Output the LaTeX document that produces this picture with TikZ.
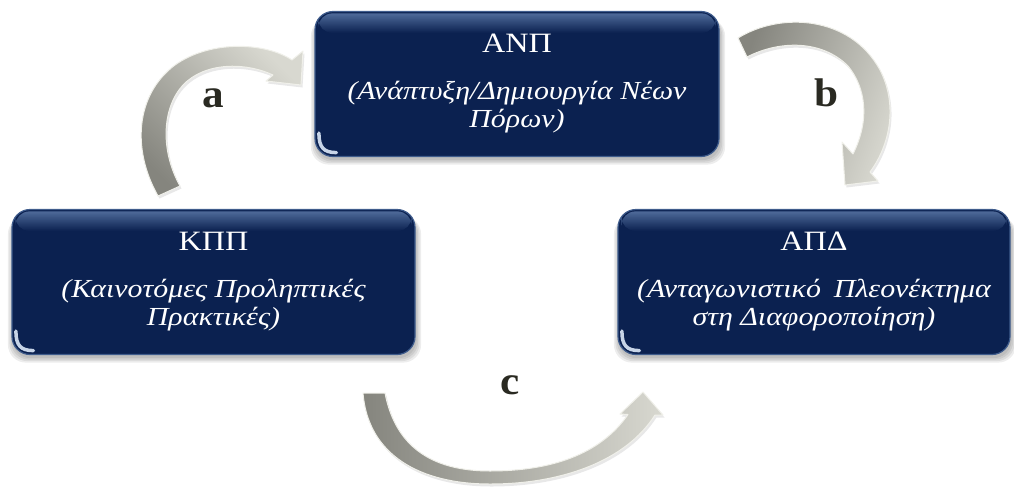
\documentclass[tikz,border=0pt]{standalone}
\usepackage{fontspec}
\setmainfont{Liberation Serif}[FakeStretch=1.15]
\newfontfamily\labfont{Liberation Serif}[FakeStretch=1.08]
\usetikzlibrary{calc,shadows}
\definecolor{navy}{HTML}{0B2150}
\definecolor{rim}{HTML}{3F5C8C}
\definecolor{sheen}{HTML}{5A77A6}
\definecolor{glint}{HTML}{DCE8F8}
\definecolor{arrdark}{HTML}{85857E}
\definecolor{arrlight}{HTML}{D8D8D0}
\definecolor{arredge}{HTML}{F0F0EA}
\definecolor{labelc}{HTML}{2A2A22}
\pgfdeclarelayer{bg}
\pgfsetlayers{bg,main}
\tikzset{
  box/.style={rounded corners=18pt, fill=navy, draw=rim, line width=1.2pt, inner sep=0pt,
    text=white, align=center, font=\fontsize{26}{28}\selectfont\itshape},
  boxshade/.style={rounded corners=18pt, fill=black, opacity=0.07},
  blockarrow/.style={draw=arredge, line width=1pt, line join=round,
    drop shadow={opacity=0.18, shadow xshift=1.5pt, shadow yshift=-2.5pt}},
  lab/.style={font=\labfont\fontsize{40}{40}\selectfont\bfseries, text=labelc, inner sep=0pt},
}
\newcommand\ttl[1]{{\upshape\fontsize{28}{28}\selectfont #1}\\[19pt]}
\newcommand\boxdeco[1]{%
  \begin{pgfonlayer}{bg}
    \foreach \s in {0,1.5,3,4.5}{
      \fill[boxshade] ($(#1.north west)+(-\s+1,6+0.3*\s)$) rectangle ($(#1.south east)+(\s+1,3+\s)$);
    }
  \end{pgfonlayer}
  \shade[rounded corners=14pt, top color=sheen, bottom color=navy, opacity=0.85]
    ($(#1.north west)+(4,2.5)$) rectangle ($(#1.north east)+(-4,22)$);
  \draw[glint, opacity=0.9, line width=3.5pt, line cap=round]
    ($(#1.south west)+(4.5,-24)$) .. controls ($(#1.south west)+(4.5,-10)$) and ($(#1.south west)+(9,-4.5)$) .. ($(#1.south west)+(22,-4.5)$);
}
\begin{document}
\begin{tikzpicture}[x=1pt,y=-1pt]
\useasboundingbox (0,0) rectangle (1014,493);

% boxes
\node[box, minimum width=404pt, minimum height=145pt] (anp) at (517,84)
  {\ttl{ΑΝΠ}(Ανάπτυξη/Δημιουργία Νέων\\Πόρων)};
\node[box, minimum width=403pt, minimum height=145pt] (kpp) at (213.5,282)
  {\ttl{ΚΠΠ}(Καινοτόμες Προληπτικές\\Πρακτικές)};
\node[box, minimum width=392pt, minimum height=145pt] (apd) at (814,282)
  {\ttl{ΑΠΔ}(Ανταγωνιστικό\enspace Πλεονέκτημα\\στη Διαφοροποίηση)};
\boxdeco{anp}
\boxdeco{kpp}
\boxdeco{apd}

% arrow a : KPP -> ANP
\shade[blockarrow, top color=arrlight, bottom color=arrdark, shading angle=-45]
  (158,196) .. controls (132,150) and (135,95) .. (175,65)
  .. controls (210,40) and (265,42) .. (292,60)
  -- (303,51) -- (301,85) -- (266,81) -- (273,75)
  .. controls (245,62) and (205,62) .. (183,85)
  .. controls (162,108) and (160,150) .. (180,186) -- cycle;

% arrow b : ANP -> APD
\shade[blockarrow, top color=arrlight, bottom color=arrdark, shading angle=-110]
  (738,38) .. controls (780,12) and (850,15) .. (880,70)
  .. controls (898,105) and (890,145) .. (870,172)
  -- (878,181) -- (845,185) -- (842,142) -- (853,154)
  .. controls (870,120) and (866,88) .. (848,66)
  .. controls (822,40) and (780,40) .. (747,57) -- cycle;

% arrow c : KPP -> APD
\shade[blockarrow, top color=arrlight, bottom color=arrdark, shading angle=-90]
  (363,393) .. controls (368,455) and (420,484) .. (490,484)
  .. controls (560,484) and (625,462) .. (655,415)
  -- (663,415) -- (643,392) -- (620,414) -- (628,414.5)
  .. controls (600,455) and (550,471) .. (490,471)
  .. controls (430,471) and (395,445) .. (385,393) -- cycle;

% labels
\node[lab] (la) at (213,98) {a};
\node[lab] (lb) at (827,93) {b};
\node[lab] (lc) at (510,385) {c};
\end{tikzpicture}
\end{document}
